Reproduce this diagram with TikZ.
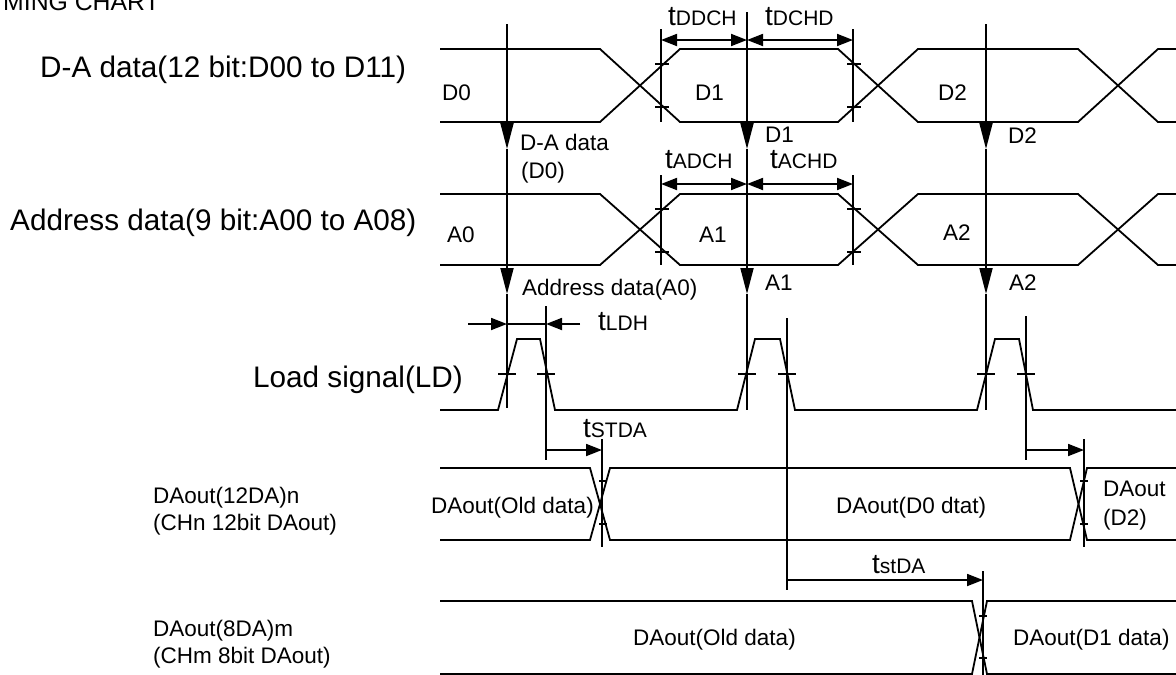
\documentclass[tikz,border=0pt]{standalone}
\usepackage{fontspec}
\setmainfont{Liberation Sans}
\usetikzlibrary{arrows.meta}
\tikzset{
  wave/.style={line width=1.8pt},
  guide/.style={line width=1.8pt},
  tickm/.style={line width=1.6pt},
  dimboth/.style={line width=1.8pt, {Triangle[length=16pt,width=12pt]}-{Triangle[length=16pt,width=12pt]}},
  dimone/.style={line width=1.8pt, -{Triangle[length=16pt,width=12pt]}},
  darr/.style={line width=1.8pt, -{Triangle[length=26pt,width=13pt]}},
  biglab/.style={inner sep=0pt, anchor=base west, font=\fontsize{29.7}{32}\selectfont},
  smalllab/.style={inner sep=0pt, anchor=base west, font=\fontsize{22.5}{24}\selectfont},
  titlelab/.style={inner sep=0pt, anchor=base west, font=\fontsize{24.8}{26}\selectfont},
}
\newcommand\tlab[1]{{\fontsize{28}{28}\selectfont t}{\fontsize{21}{21}\selectfont #1}}
\newcommand\tk[3]{\draw[tickm] ({#1-#3},#2) -- ({#1+#3},#2);}
\begin{document}
\begin{tikzpicture}[x=1pt,y=-1pt]
\useasboundingbox (0,0) rectangle (1176,675);
% title
\node[titlelab] (title) at (3,10) {MING CHART};
% left labels
\node[biglab] (lda) at (40,77) {D-A data(12 bit:D00 to D11)};
\node[biglab] (lad) at (10,230) {Address data(9 bit:A00 to A08)};
\node[biglab] (lld) at (253,387) {Load signal(LD)};
\node[smalllab] (l12a) at (153,503) {DAout(12DA)n};
\node[smalllab] (l12b) at (153,530) {(CHn 12bit DAout)};
\node[smalllab] (l8a) at (153,636) {DAout(8DA)m};
\node[smalllab] (l8b) at (153,663) {(CHm 8bit DAout)};

% Row 1: D-A data bus
\draw[wave] (440,49) -- (600,49) -- (680,122) -- (838,122) -- (918,49) -- (1078,49) -- (1158,122) -- (1176,122);
\draw[wave] (440,122) -- (600,122) -- (680,49) -- (838,49) -- (918,122) -- (1078,122) -- (1158,49) -- (1176,49);
\node[smalllab] (d0) at (442,100) {D0};
\node[smalllab] (d1) at (695,100) {D1};
\node[smalllab] (d2) at (938,100) {D2};

% Row 2: Address bus
\draw[wave] (440,194) -- (600,194) -- (680,265) -- (838,265) -- (918,194) -- (1078,194) -- (1158,265) -- (1176,265);
\draw[wave] (440,265) -- (600,265) -- (680,194) -- (838,194) -- (918,265) -- (1078,265) -- (1158,194) -- (1176,194);
\node[smalllab] (a0) at (447,242) {A0};
\node[smalllab] (a1) at (699,242) {A1};
\node[smalllab] (a2) at (943,240) {A2};

% Row 3: Load signal
\draw[wave] (440,410) -- (498,410) -- (517,339) -- (540,339) -- (555,410) -- (737,410) -- (755,339) -- (780,339) -- (795,410) -- (977,410) -- (995,339) -- (1019,339) -- (1033,410) -- (1176,410);

% Row 4: DAout(12DA)n
\draw[wave] (440,468) -- (590,468) -- (610,540) -- (1070,540) -- (1087,468) -- (1176,468);
\draw[wave] (440,540) -- (590,540) -- (610,468) -- (1070,468) -- (1087,540) -- (1176,540);
\node[smalllab] (o1) at (431,513) {DAout(Old data)};
\node[smalllab] (o2) at (836,513) {DAout(D0 dtat)};
\node[smalllab] (o3) at (1103,496) {DAout};
\node[smalllab] (o4) at (1103,525) {(D2)};

% Row 5: DAout(8DA)m
\draw[wave] (440,601) -- (972,601) -- (987,674) -- (1176,674);
\draw[wave] (440,674) -- (972,674) -- (987,601) -- (1176,601);
\node[smalllab] (p1) at (633,645) {DAout(Old data)};
\node[smalllab] (p2) at (1013,645) {DAout(D1 data)};

% vertical sampling lines with arrows
\draw[darr] (507,24) -- (507,149);
\draw[darr] (507,149) -- (507,294);
\draw[guide] (507,294) -- (507,408);
\draw[darr] (747,12) -- (747,149);
\draw[darr] (747,149) -- (747,294);
\draw[guide] (747,294) -- (747,410);
\draw[darr] (986,24) -- (986,149);
\draw[darr] (986,149) -- (986,294);
\draw[guide] (986,294) -- (986,410);

\node[smalllab] (s1) at (520,150) {D-A data};
\node[smalllab] (s2) at (521,178) {(D0)};
\node[smalllab] (s3) at (765,142) {D1};
\node[smalllab] (s4) at (1008,143) {D2};
\node[smalllab] (s5) at (522,295) {Address data(A0)};
\node[smalllab] (s6) at (765,290) {A1};
\node[smalllab] (s7) at (1009,290) {A2};

% setup / hold markers rows 1 and 2
\draw[guide] (661,29) -- (661,122);
\draw[guide] (853,29) -- (853,122);
\draw[guide] (661,175) -- (661,265);
\draw[guide] (853,175) -- (853,265);
\tk{662}{64}{7} \tk{662}{107}{7}
\tk{854}{64}{7} \tk{854}{107}{7}
\tk{662}{209}{7} \tk{662}{252}{7}
\tk{854}{209}{7} \tk{854}{252}{7}
\draw[dimboth] (661,40) -- (747,40);
\draw[dimboth] (747,40) -- (853,40);
\draw[dimboth] (661,184) -- (747,184);
\draw[dimboth] (747,184) -- (853,184);
\node[inner sep=0pt, anchor=base west] (tddch) at (668,25) {\tlab{DDCH}};
\node[inner sep=0pt, anchor=base west] (tdchd) at (765,25) {\tlab{DCHD}};
\node[inner sep=0pt, anchor=base west] (tadch) at (665,168) {\tlab{ADCH}};
\node[inner sep=0pt, anchor=base west] (tachd) at (770,168) {\tlab{ACHD}};

% load pulse markers
\draw[guide] (546,306) -- (546,460);
\draw[guide] (787,318) -- (787,590);
\draw[guide] (1026,316) -- (1026,460);
\tk{507}{374}{9} \tk{546}{374}{9}
\tk{747}{374}{9} \tk{787}{374}{9}
\tk{986}{374}{9} \tk{1026}{374}{9}

% tLDH
\draw[dimone] (468,324) -- (507,324);
\draw[guide] (507,324) -- (546,324);
\draw[dimone] (580,324) -- (546,324);
\node[inner sep=0pt, anchor=base west] (tldh) at (598,330) {\tlab{LDH}};

% tSTDA
\draw[guide] (602,439) -- (602,547);
\draw[guide] (1084,439) -- (1084,547);
\tk{603}{481}{4} \tk{603}{524}{4}
\tk{1084}{481}{4} \tk{1084}{524}{4}
\draw[dimone] (546,450) -- (602,450);
\draw[dimone] (1026,450) -- (1084,450);
\node[inner sep=0pt, anchor=base west] (tstda1) at (583,437) {\tlab{STDA}};

% tstDA
\draw[guide] (983,571) -- (983,675);
\tk{983}{616}{4} \tk{983}{658}{4}
\draw[dimone] (787,580) -- (983,580);
\node[inner sep=0pt, anchor=base west] (tstda2) at (872,573) {\tlab{stDA}};
\end{tikzpicture}
\end{document}
